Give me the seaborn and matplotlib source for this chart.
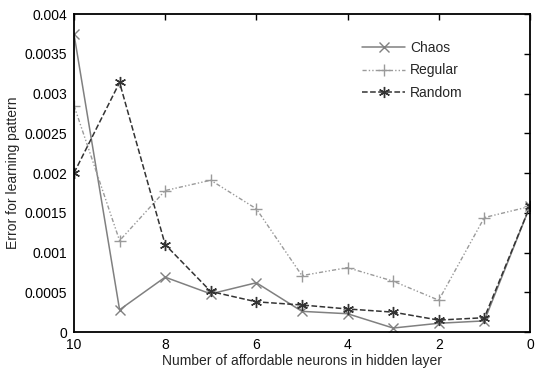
import matplotlib
matplotlib.use("Agg")
import matplotlib.pyplot as plt
import seaborn as sns
import pandas as pd

neurons = [10, 9, 8, 7, 6, 5, 4, 3, 2, 1, 0]
chaos = [0.00375, 0.00028, 0.00069, 0.00048, 0.00062, 0.00026, 0.00023, 0.00005, 0.00011, 0.00014, 0.00158]
regular = [0.00285, 0.00115, 0.00178, 0.00191, 0.00155, 0.00071, 0.00081, 0.00064, 0.00040, 0.00144, 0.00158]
random_ = [0.00200, 0.00314, 0.00110, 0.00051, 0.00038, 0.00034, 0.00029, 0.00025, 0.00015, 0.00018, 0.00158]
yticks = [0, 0.0005, 0.001, 0.0015, 0.002, 0.0025, 0.003, 0.0035, 0.004]
yticklabels = ["0", "0.0005", "0.001", "0.0015", "0.002", "0.0025", "0.003", "0.0035", "0.004"]
xticks = [10, 8, 6, 4, 2, 0]

sns.set_style("white")
plt.rcParams['font.family'] = ['Liberation Sans', 'DejaVu Sans']

fig = plt.figure(figsize=(5.38, 3.72), dpi=100)
ax = fig.add_axes([0.1375, 0.1075, 0.8475, 0.8545])

series = [
    ("Chaos", chaos, "#808080", "-", "x", 7, 1.1),
    ("Regular", regular, "#9a9a9a", (0, (3, 1.5, 1, 1.5, 1, 1.5)), "+", 8, 1.0),
    ("Random", random_, "#333333", "--", (6, 2, 0), 8, 1.1),
]
for name, vals, col, ls, mk, ms, lw in series:
    df = pd.DataFrame({"x": neurons, "y": vals})
    sns.lineplot(data=df, x="x", y="y", ax=ax, color=col, linestyle=ls, marker=mk,
                 markersize=ms, linewidth=lw, label=name, markeredgecolor=col,
                 markerfacecolor=col, markeredgewidth=1.0, sort=False)

ax.set_xlim(10, 0)
ax.set_ylim(0, 0.004)
ax.set_xticks(xticks)
ax.set_xticklabels([str(t) for t in xticks])
ax.set_yticks(yticks)
ax.set_yticklabels(yticklabels)
ax.tick_params(direction="in", length=4, width=1, top=True, right=True, labelsize=10,
               colors="black")
ax.tick_params(axis="y", pad=5)
ax.tick_params(axis="x", pad=4)
for s in ax.spines.values():
    s.set_color("black")
    s.set_linewidth(1.3)
ax.set_xlabel("Number of affordable neurons in hidden layer", fontsize=10, labelpad=2)
ax.set_ylabel("Error for learning pattern", fontsize=10, labelpad=3)

leg = ax.legend(loc="upper left", bbox_to_anchor=(0.632, 0.915), frameon=False, fontsize=10,
                handlelength=3.1, handletextpad=0.35, labelspacing=0.6, borderpad=0,
                borderaxespad=0)

fig.savefig("out.png", dpi=100)
